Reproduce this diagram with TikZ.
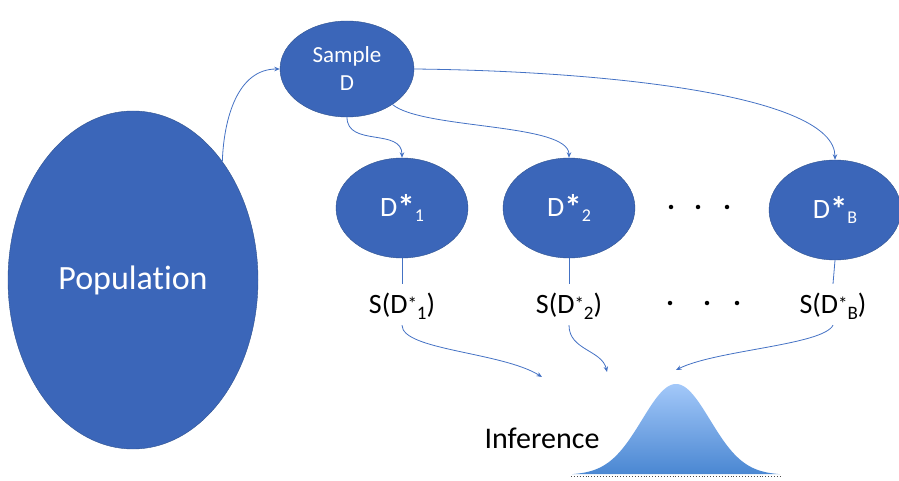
\documentclass[tikz,border=0pt]{standalone}
\usepackage{fontspec}
\setmainfont{Carlito}[Ligatures=NoCommon]
\usetikzlibrary{shapes.geometric,arrows.meta}
\definecolor{nodeblue}{HTML}{3B66B9}
\definecolor{edgeblue}{HTML}{2F528F}
\definecolor{arrowblue}{HTML}{4472C4}
\definecolor{bellTop}{HTML}{A3C8F9}
\definecolor{bellBot}{HTML}{4A87D2}
\newcommand\lowsub[1]{\raisebox{-5pt}{\fontsize{18}{18}\selectfont #1}}
\newcommand\bigast{\raisebox{-2.5pt}{\fontsize{35}{35}\selectfont\bfseries *}}
\newcommand\smallsub[1]{\raisebox{-6pt}{\fontsize{19}{19}\selectfont #1}}
\newcommand\smallast{\raisebox{3pt}{\fontsize{19}{19}\selectfont *}}
\begin{document}
\begin{tikzpicture}[x=1pt,y=1pt,
  blob/.style={ellipse,fill=nodeblue,draw=edgeblue,line width=0.4pt,text=white,inner sep=0pt},
  dstar/.style={blob,minimum width=132pt,minimum height=100pt,font=\fontsize{28}{30}\selectfont},
  conn/.style={draw=arrowblue,line width=0.8pt,-{Stealth[length=5.5pt,width=4.5pt]}},
  link/.style={draw=arrowblue,line width=0.8pt},
  stat/.style={font=\fontsize{28}{30}\selectfont,anchor=base,inner ysep=9pt,text height=20pt,text depth=3pt},
  dotmark/.style={circle,fill=black,inner sep=0pt,minimum size=4.5pt}]
\path[use as bounding box] (0,0) rectangle (899,-481);
% nodes
\node[blob,minimum width=250pt,minimum height=338pt,font=\fontsize{34}{40}\selectfont] (pop) at (133,-280) {Population};
\node[blob,minimum width=134pt,minimum height=96pt,align=center,font=\fontsize{23}{28}\selectfont] (samp) at (347,-69) {Sample\\D};
\node[dstar] (d1) at (402,-208) {D\bigast\lowsub{1}};
\node[dstar] (d2) at (569,-208) {D\bigast\lowsub{2}};
\node[dstar] (dB) at (835,-210) {D\bigast\lowsub{B}};
\node[stat] (s1) at (402,-313) {S(D\smallast\smallsub{1})};
\node[stat] (s2) at (569,-313) {S(D\smallast\smallsub{2})};
\node[stat] (sB) at (833,-313) {S(D\smallast\smallsub{B})};
\node[dotmark] (a1) at (671,-207) {};
\node[dotmark] (a2) at (698,-207) {};
\node[dotmark] (a3) at (727,-207) {};
\node[dotmark] (b1) at (670,-303) {};
\node[dotmark] (b2) at (707,-303) {};
\node[dotmark] (b3) at (737,-303) {};
\node[font=\fontsize{30}{34}\selectfont] (inf) at (542,-438) {Inference};
\coordinate (t1) at (542,-377);
\coordinate (t2) at (607,-372);
\coordinate (tB) at (676,-370);
% bell curve
\shade[top color=bellTop,bottom color=bellBot] plot[domain=572:780,samples=120] (\x,{-475+91*exp(-0.5*((\x-676)/34)*((\x-676)/34))}) -- cycle;
\draw[dotted,black!70,line width=0.9pt] (571,-476) -- (780,-476);
% connectors
\draw[conn] (pop.53) to[out=88,in=180] (samp.west);
\draw[conn] (samp.south) .. controls +(0,-30) and +(0,30) .. (d1.north);
\draw[conn] (samp.-38) .. controls +(30,-25) and +(0,35) .. (d2.north);
\draw[conn] (samp.east) .. controls +(190,-2) and +(0,65) .. (dB.north);
\draw[link] (d1.south) -- (s1.north);
\draw[link] (d2.south) -- (s2.north);
\draw[link] (dB.south) -- (sB.north);
\draw[conn] (s1.south) .. controls +(0,-25) and +(-40,25) .. (t1);
\draw[conn] (s2.south) .. controls +(0,-25) and +(-5,22) .. (t2);
\draw[conn] (sB.south) .. controls +(-10,-20) and +(40,20) .. (tB);
\end{tikzpicture}
\end{document}
